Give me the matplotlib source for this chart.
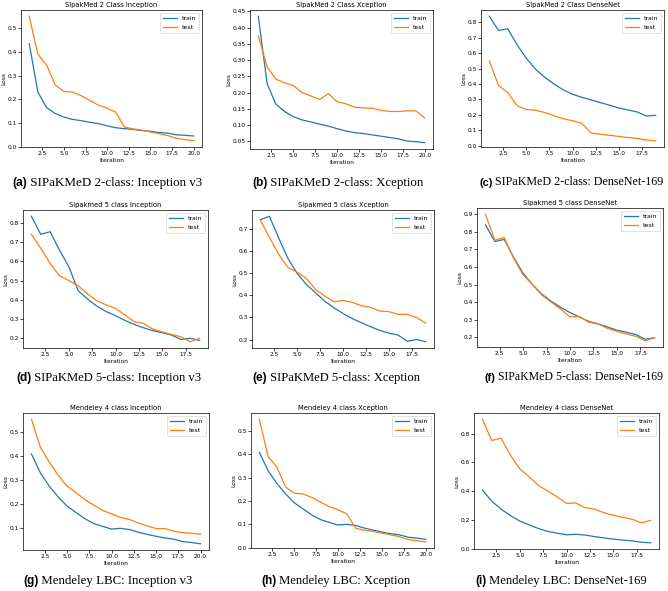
import matplotlib.pyplot as plt

# ---- data ----
iters20 = list(range(1, 21))
iters19 = list(range(1, 20))

# SIPaKMeD 2-class
sp2_incep_train = [0.435, 0.23, 0.165, 0.14, 0.125, 0.115, 0.11, 0.103, 0.097, 0.088,
                   0.08, 0.076, 0.073, 0.068, 0.065, 0.06, 0.057, 0.05, 0.048, 0.045]
sp2_incep_test = [0.55, 0.39, 0.345, 0.26, 0.233, 0.23, 0.215, 0.195, 0.175, 0.162,
                  0.145, 0.083, 0.075, 0.07, 0.062, 0.055, 0.047, 0.035, 0.03, 0.025]
sp2_xcep_train = [0.435, 0.228, 0.165, 0.142, 0.126, 0.116, 0.11, 0.103, 0.097, 0.089,
                  0.082, 0.077, 0.074, 0.07, 0.066, 0.062, 0.058, 0.051, 0.049, 0.046]
sp2_xcep_test = [0.375, 0.28, 0.242, 0.23, 0.222, 0.2, 0.19, 0.179, 0.197, 0.172,
                 0.166, 0.155, 0.153, 0.152, 0.146, 0.142, 0.142, 0.144, 0.144, 0.122]
sp2_dense_train = [0.84, 0.748, 0.758, 0.655, 0.568, 0.496, 0.444, 0.4, 0.362, 0.334,
                   0.314, 0.297, 0.28, 0.263, 0.245, 0.232, 0.219, 0.193, 0.197]
sp2_dense_test = [0.55, 0.39, 0.345, 0.26, 0.235, 0.23, 0.215, 0.195, 0.175, 0.162,
                  0.145, 0.083, 0.075, 0.068, 0.06, 0.053, 0.047, 0.037, 0.032]

# SIPaKMeD 5-class
sp5_incep_train = [0.837, 0.742, 0.756, 0.66, 0.573, 0.447, 0.403, 0.366, 0.337, 0.316,
                   0.291, 0.27, 0.252, 0.237, 0.226, 0.214, 0.191, 0.197, 0.186]
sp5_incep_test = [0.742, 0.669, 0.59, 0.525, 0.5, 0.473, 0.43, 0.394, 0.372, 0.354,
                  0.32, 0.284, 0.275, 0.245, 0.231, 0.217, 0.205, 0.179, 0.197]
sp5_xcep_train = [0.742, 0.758, 0.66, 0.568, 0.5, 0.45, 0.412, 0.374, 0.344, 0.318,
                  0.295, 0.276, 0.258, 0.241, 0.229, 0.22, 0.192, 0.2, 0.19]
sp5_xcep_test = [0.742, 0.662, 0.586, 0.526, 0.505, 0.477, 0.427, 0.397, 0.371, 0.377,
                 0.368, 0.353, 0.345, 0.329, 0.326, 0.314, 0.314, 0.3, 0.274]
sp5_dense_train = [0.84, 0.745, 0.757, 0.655, 0.565, 0.5, 0.445, 0.405, 0.37, 0.34,
                   0.315, 0.29, 0.275, 0.258, 0.24, 0.228, 0.215, 0.188, 0.197]
sp5_dense_test = [0.9, 0.752, 0.768, 0.65, 0.555, 0.5, 0.44, 0.4, 0.36, 0.315,
                  0.318, 0.285, 0.275, 0.25, 0.233, 0.218, 0.205, 0.18, 0.197]

# Mendeley 4-class
men_incep_train = [0.408, 0.33, 0.275, 0.23, 0.192, 0.166, 0.14, 0.12, 0.108, 0.097,
                   0.1, 0.095, 0.084, 0.075, 0.067, 0.06, 0.055, 0.045, 0.041, 0.036]
men_incep_test = [0.552, 0.436, 0.374, 0.32, 0.275, 0.248, 0.219, 0.196, 0.174, 0.16,
                  0.145, 0.137, 0.122, 0.11, 0.099, 0.099, 0.088, 0.082, 0.08, 0.075]
men_xcep_train = men_incep_train
men_xcep_test = sp2_incep_test
men_dense_train = men_incep_train[:19]
men_dense_test = sp5_dense_test

titles = ["SIpakMed 2 Class Inception", "SIpakMed 2 Class Xception", "SIpakMed 2 Class DenseNet",
          "Sipakmed 5 class Inception", "Sipakmed 5 class Xception", "Sipakmed 5 class DenseNet",
          "Mendeley 4 class Inception", "Mendeley 4 class Xception", "Mendeley 4 class DenseNet"]
tags = ["(a)", "(b)", "(c)", "(d)", "(e)", "(f)", "(g)", "(h)", "(i)"]
captions = ["SIPaKMeD 2-class: Inception v3", "SIPaKMeD 2-class: Xception",
            "SIPaKMeD 2-class: DenseNet-169",
            "SIPaKMeD 5-class: Inception v3", "SIPaKMeD 5-class: Xception",
            "SIPaKMeD 5-class: DenseNet-169",
            "Mendeley LBC: Inception v3", "Mendeley LBC: Xception", "Mendeley LBC: DenseNet-169"]
series = [
    (iters20, sp2_incep_train, sp2_incep_test),
    (iters20, sp2_xcep_train, sp2_xcep_test),
    (iters19, sp2_dense_train, sp2_dense_test),
    (iters19, sp5_incep_train, sp5_incep_test),
    (iters19, sp5_xcep_train, sp5_xcep_test),
    (iters19, sp5_dense_train, sp5_dense_test),
    (iters20, men_incep_train, men_incep_test),
    (iters20, men_xcep_train, men_xcep_test),
    (iters19, men_dense_train, men_dense_test),
]

W, H = 668, 591
# axes boxes in pixels: left, top, right, bottom
boxes = [(21, 10, 202, 147), (250, 10, 433, 149), (481, 10, 664, 147),
         (23, 210, 208, 348), (252, 210, 434, 348), (477, 208, 663, 347),
         (23, 413, 209, 550), (251, 413, 434, 548), (474, 413, 659, 549)]
# caption left x, centre y, total width in pixels
cap_pos = [(12, 183, 191), (252, 183, 172), (479, 183, 185),
           (16, 378, 187), (252, 378, 169), (484, 378, 179),
           (23, 581, 170), (261, 581, 150), (475, 581, 172)]

fig = plt.figure(figsize=(W / 100, H / 100), dpi=100)
renderer = fig.canvas.get_renderer()

for i in range(9):
    l, t, r, b = boxes[i]
    ax = fig.add_axes([l / W, 1 - b / H, (r - l) / W, (b - t) / H])
    x, tr, te = series[i]
    ax.plot(x, tr, color='#1f77b4', lw=0.9, label='train')
    ax.plot(x, te, color='#ff7f0e', lw=0.9, label='test')
    ax.set_title(titles[i], fontsize=4.9, pad=2)
    ax.set_xlabel('Iteration', fontsize=4.2, labelpad=1)
    ax.set_ylabel('Loss', fontsize=4.2, labelpad=1)
    ax.tick_params(labelsize=4.2, length=2, width=0.5, pad=1)
    for s in ax.spines.values():
        s.set_linewidth(0.5)
    ax.legend(fontsize=4.4, loc='upper right', handlelength=2.2, borderpad=0.5,
              framealpha=1, edgecolor='#cccccc').get_frame().set_linewidth(0.4)

    # caption: bold sans tag followed by serif text, sized to the reference width
    cx, cy, cw = cap_pos[i]
    t1 = fig.text(cx / W, 1 - cy / H, tags[i], fontsize=8.8, fontweight='bold',
                  family='Liberation Sans', va='center', ha='left')
    t2 = ax.annotate(" " + captions[i], xy=(1, 0), xycoords=t1, va='bottom', ha='left',
                     fontsize=9.5, family='Liberation Serif', annotation_clip=False)
    w = (t1.get_window_extent(renderer).width + t2.get_window_extent(renderer).width)
    k = cw / w
    t1.set_fontsize(8.8 * k)
    t2.set_fontsize(9.5 * k)

fig.savefig('out.png', dpi=100)
